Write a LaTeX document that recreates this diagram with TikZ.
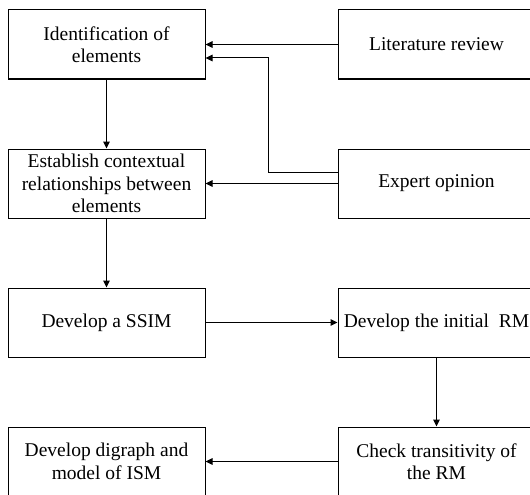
\documentclass[tikz,border=0pt]{standalone}
\usepackage{fontspec}
\setmainfont{Liberation Serif}
\usetikzlibrary{arrows.meta}
\begin{document}
\begin{tikzpicture}[x=1pt,y=-1pt,
  box/.style={draw,line width=1pt,minimum width=197pt,minimum height=69pt,inner sep=0pt,align=center,
    font=\fontsize{19.5}{22.5}\selectfont},
  conn/.style={line width=1pt,-{Triangle[length=7pt,width=6.5pt]}}]
\useasboundingbox (0,0) rectangle (530,495);
\clip (0,0) rectangle (530,495);
\node[box] (ident) at (106.5,44.5) {Identification of\\elements};
\node[box] (estab) at (106.5,183.5) {Establish contextual\\relationships between\\elements};
\node[box] (ssim) at (106.5,322.5) {Develop a SSIM};
\node[box] (digraph) at (106.5,461.5) {Develop digraph and\\model of ISM};
\node[box] (lit) at (436.5,44.5) {Literature review};
\node[box] (expert) at (436.5,183.5) {Expert opinion};
\node[box] (rm) at (436.5,322.5) {Develop the initial~~RM};
\node[box] (check) at (436.5,461.5) {Check transitivity of\\the RM};
\draw[conn] (lit.west) -- (ident.east);
\coordinate (b1) at (268,172);
\coordinate (b2) at (268,58);
\coordinate (e1) at (expert.west |- b1);
\draw[conn] (e1) -- (b1) -- (b2) -- (ident.east |- b2);
\draw[conn] (expert.west) -- (estab.east);
\draw[conn] (ident.south) -- (estab.north);
\draw[conn] (estab.south) -- (ssim.north);
\draw[conn] (ssim.east) -- (rm.west);
\draw[conn] (rm.south) -- (check.north);
\draw[conn] (check.west) -- (digraph.east);
\end{tikzpicture}
\end{document}
